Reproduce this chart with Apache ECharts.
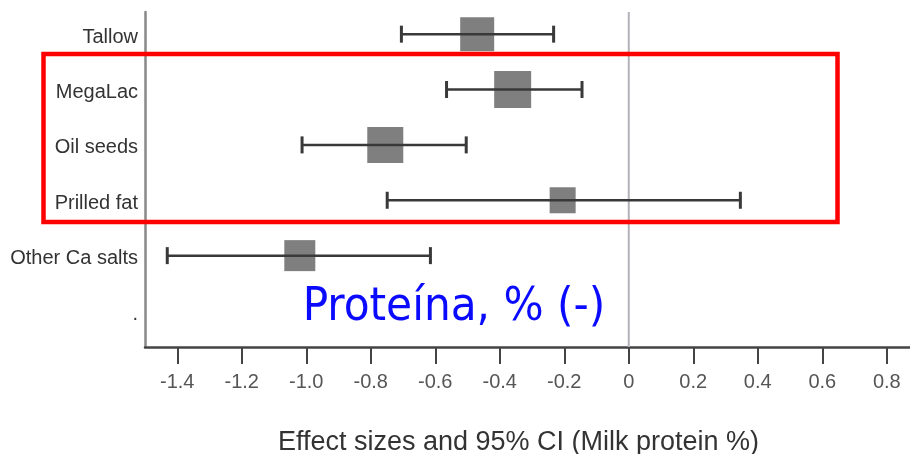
<!DOCTYPE html>
<html>
<head>
<meta charset="utf-8">
<script src="https://cdn.jsdelivr.net/npm/echarts@6/dist/echarts.min.js"></script>
<style>
html,body{margin:0;padding:0;background:#fff;}
#chart{width:910px;height:454px;}
</style>
</head>
<body>
<div id="chart"></div>
<script>
// Data
const categories = ['Tallow', 'MegaLac', 'Oil seeds', 'Prilled fat', 'Other Ca salts', '.'];
const estimates = [-0.47, -0.36, -0.755, -0.205, -1.02];
const lowerCI = [-0.705, -0.565, -1.013, -0.749, -1.431];
const upperCI = [-0.233, -0.145, -0.504, 0.346, -0.615];
const weights = [34, 37, 36, 26, 31]; // relative study weight (square size)
const xTicks = [-1.4, -1.2, -1.0, -0.8, -0.6, -0.4, -0.2, 0, 0.2, 0.4, 0.6, 0.8];
const xName = 'Effect sizes and 95% CI (Milk protein %)';
const annotation = 'Proteína, % (-)';

const seriesData = estimates.map((e, i) => [e, i, lowerCI[i], upperCI[i], weights[i]]);
const yTickValues = categories.map((c, i) => i);

const chart = echarts.init(document.getElementById('chart'), null, {renderer: 'canvas'});
chart.setOption({
  backgroundColor: '#ffffff',
  animation: false,
  grid: {left: 145, top: 12, width: 765, height: 335, containLabel: false, outerBoundsMode: 'none'},
  xAxis: {
    type: 'value', min: -1.5, max: 0.872,
    name: xName, nameLocation: 'middle', nameGap: 82,
    nameTextStyle: {fontFamily: 'Liberation Sans', fontSize: 27, color: '#333', padding: [0, 18, 0, 0]},
    axisLine: {show: true, onZero: false, lineStyle: {color: '#444', width: 2.5}},
    axisTick: {show: true, customValues: xTicks, length: 17, lineStyle: {color: '#444', width: 2}},
    axisLabel: {customValues: xTicks, fontFamily: 'Liberation Sans', fontSize: 20, color: '#555', margin: 25,
      showMaxLabel: true, showMinLabel: true,
      formatter: v => (Math.abs(v) < 1e-9 ? '0' : v.toFixed(1))},
    splitLine: {show: false}
  },
  yAxis: {
    type: 'value', inverse: true, min: -0.4, max: 5.65,
    axisLine: {show: true, onZero: false, lineStyle: {color: '#888', width: 2.5}},
    axisTick: {show: false},
    axisLabel: {customValues: yTickValues, fontFamily: 'Liberation Sans', fontSize: 20, color: '#333', margin: 7,
      verticalAlign: 'top', lineHeight: 6,
      formatter: v => categories[Math.round(v)]},
    splitLine: {show: false}
  },
  series: [
    {
      type: 'line', data: [[0, -0.4], [0, 5.65]], symbol: 'none', silent: true, z: 1,
      lineStyle: {color: '#b2b2ba', width: 2}
    },
    {
      type: 'custom', z: 3,
      encode: {x: [0, 2, 3], y: 1},
      data: seriesData,
      renderItem: function (params, api) {
        const y = api.value(1);
        const c = api.coord([api.value(0), y]);
        const l = api.coord([api.value(2), y]);
        const h = api.coord([api.value(3), y]);
        const s = api.value(4);
        const cap = 8.5;
        const st = {stroke: '#393939', lineWidth: 2.5};
        return {
          type: 'group',
          children: [
            {type: 'rect', shape: {x: c[0] - s / 2, y: c[1] - s / 2, width: s, height: s}, style: {fill: '#7f7f7f'}},
            {type: 'line', shape: {x1: l[0], y1: l[1], x2: h[0], y2: h[1]}, style: st},
            {type: 'line', shape: {x1: l[0], y1: l[1] - cap, x2: l[0], y2: l[1] + cap}, style: {stroke: '#393939', lineWidth: 3}},
            {type: 'line', shape: {x1: h[0], y1: h[1] - cap, x2: h[0], y2: h[1] + cap}, style: {stroke: '#393939', lineWidth: 3}}
          ]
        };
      }
    }
  ],
  graphic: [
    {
      type: 'rect', z: 10, silent: true,
      shape: {x: 43.5, y: 54, width: 794, height: 168},
      style: {fill: 'none', stroke: '#ff0000', lineWidth: 4.5}
    },
    {
      type: 'text', z: 10, silent: true,
      x: 454, y: 307.5,
      style: {text: annotation, fontFamily: 'DejaVu Sans Condensed', fontSize: 47, fill: '#0a0aff',
        align: 'center', verticalAlign: 'middle'}
    }
  ]
});
</script>
</body>
</html>
